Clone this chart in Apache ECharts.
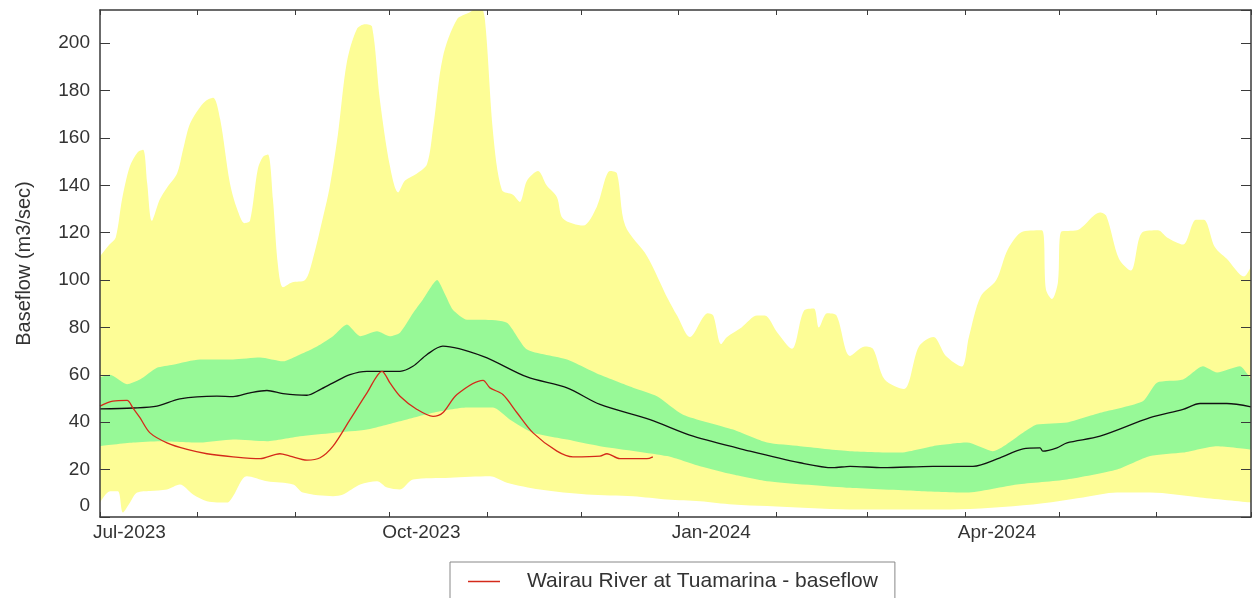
<!DOCTYPE html>
<html>
<head>
<meta charset="utf-8">
<script src="https://cdn.jsdelivr.net/npm/echarts@6/dist/echarts.min.js"></script>
<style>
  html, body { margin: 0; padding: 0; background: #fff; }
  #chart { width: 1253px; height: 598px; }
</style>
</head>
<body>
<div id="chart"></div>
<script>
// x = days counted from 1 Jul 2023, values in m3/sec
const maxFlow = [[0,110],[3,115],[5,118],[7,134],[9.5,148],[12,154],[13.7,155],[15,141],[16.5,125],[19,134],[21.3,139],[24.5,145],[26.4,155],[28.6,166],[31.8,173],[34,176],[36,177],[38.2,168],[41.3,141],[43.6,130],[46,124],[47.7,125],[50.2,147],[51.8,152],[53.4,153],[55,134],[56.6,106],[58.2,97],[61,99],[65.2,100],[67.7,109],[71,127],[73,139],[75.7,162],[78.5,192],[81.7,206],[84.3,208],[86.5,207],[89,176],[92.2,148],[94.8,137],[97,142],[100.8,145],[104,149],[106,165],[109,194],[113.5,210],[117.6,213],[120.8,216],[122.4,210],[125,162],[127.8,138],[131.3,136],[133.5,133],[135.8,142],[139.3,146],[142,140],[145.3,135],[147.2,126],[153.6,123],[158,131],[162.2,146],[164.4,145],[167,123],[174,110],[180.6,92],[183.5,85],[187.6,76],[193.3,86],[195,85],[197.5,73],[199.4,76],[204,80],[209,85],[211.4,85],[215.3,78],[220,71],[223.8,87],[227,88],[228.6,80],[231.2,86],[234.2,85],[238.5,68],[243.2,72],[245.8,71],[249.5,58],[255.6,54],[260.4,72],[265,76],[269,68],[274,63.5],[276.3,76],[280,93],[285,100],[288.7,113],[293.5,120.5],[299.5,121],[300.8,96],[302.7,92],[304.6,99],[305.7,120.5],[310.7,121],[318,128.5],[320,127],[324,109],[327.8,104],[331.3,120],[336.4,121],[339.3,118],[344.4,115],[348.5,125.5],[351,125.5],[354.5,114],[358.3,109],[363.8,101.5],[366,105.7]];
const upperQuartile = [[0,58.9],[3.2,60],[8.6,56],[12.7,58],[18.1,63],[23.2,64.3],[31.8,66.5],[42.3,66.5],[50.9,67.3],[58.2,65.7],[63.6,68.6],[69,72],[74.1,76.3],[78.5,81.2],[82.7,76.3],[88.1,78.4],[92.2,76.3],[95.4,77.8],[99.5,86],[102.7,91.8],[107.2,100],[109.7,94],[112.2,87.5],[116.7,83.3],[121.8,83.3],[129.4,82],[135.8,70.7],[148.5,66.5],[159,60],[169.5,54.6],[177.1,51],[185.4,43.2],[201.3,36.9],[212.1,31.4],[222.6,29.9],[238.5,27.8],[254.4,27.2],[264.9,29.9],[275.7,31.4],[283.9,27.8],[293.5,35.6],[297.9,39],[307.5,39.9],[318,44],[331.6,48.9],[336.1,56.7],[344.4,58],[350.7,63.6],[355.2,61],[362.5,63.6],[366,58]];
const lowerQuartile = [[0,29.9],[10.5,31.4],[19.1,32],[31.8,31.4],[42.3,32.7],[53.1,32],[63.6,34.1],[74.1,35.5],[84.9,36.9],[95.4,40.4],[105.9,44],[116.7,46.2],[125,46.2],[130.4,41.1],[137.7,35.6],[148.5,32.7],[159,29.9],[180.3,25.7],[190.8,21.4],[201.3,17.9],[212.1,15.1],[238.5,12.3],[259.8,11],[275.7,10.3],[291.6,13.7],[307.5,15.8],[323.4,20],[333.9,25.7],[344.4,27.2],[355.2,29.9],[366,28.5]];
const minFlow = [[0,6.1],[3.2,10.9],[5.7,10.9],[7.3,1.9],[9.5,6],[11.8,10.3],[15.9,11],[21.3,11.6],[25.4,13.7],[29.6,9.5],[34,6.7],[40.4,6.1],[42.3,8.8],[46.7,17.2],[53.1,15.1],[61.4,13.7],[64.5,10.3],[74.1,8.8],[77.3,9.5],[82.7,13.7],[88.1,15.1],[91.3,12.4],[95.4,11.6],[99.5,15.8],[111.3,16.6],[124,17.2],[129.4,14.5],[139.9,11.6],[154.8,9.5],[169.5,8.8],[180.3,7.4],[190.8,6.7],[201.3,5.3],[212.1,4.6],[238.5,3.2],[270.3,3.2],[296.7,5.3],[312.6,8.2],[323.4,10.3],[333.9,10.3],[349.8,8.2],[366,6.1]];
const medianFlow = [[0,45.6],[10.5,46],[18.1,46.8],[25.4,49.9],[37.2,51],[42.3,50.8],[47.7,52.4],[53.1,53.4],[58.2,52.1],[65.8,51.4],[70,53.8],[74.1,56.6],[79.5,60.1],[84.9,61.5],[95.4,61.5],[99.5,63.6],[104,68.6],[109,72.1],[121.8,67.8],[135.8,59.1],[148.5,54.5],[159,47.5],[174.9,41.1],[188.6,34.1],[206.7,27.8],[222.6,22.9],[233.1,20.8],[238.5,21.4],[249,20.8],[264.9,21.4],[277.6,21.4],[286.2,25],[293.5,28.8],[298.9,29.2],[299.8,27.8],[304.3,29.2],[307.5,31.3],[318,34.1],[333.9,41.9],[344.4,45.4],[349.8,47.9],[358.3,47.9],[366,46.5]];
const observedFlow = [[0,46.8],[4.1,48.9],[8.6,49.2],[10.5,46],[12.7,41.9],[15.9,35.5],[21.3,31.3],[27.7,28.5],[34,26.7],[42.3,25.4],[50.9,24.6],[57.2,26.7],[60.4,25.7],[65.8,24],[70,25],[74.1,29.9],[79.5,41.1],[84.9,52.4],[89.7,61.5],[92.2,56.6],[95.4,51],[100.8,45.4],[105.9,42.5],[109,44],[113.5,51.7],[121.8,57.7],[124,54.5],[128.1,51.7],[132.6,44],[137.7,35.5],[145.3,27.8],[150.4,25.4],[159,25.7],[161.2,26.7],[165.3,24.6],[173.9,24.6],[175.8,25.4]];

const monthTicks = ['2023-07-01','2023-08-01','2023-09-01','2023-10-01','2023-11-01','2023-12-01','2024-01-01','2024-02-01','2024-03-01','2024-04-01','2024-05-01','2024-06-01','2024-07-01'];
const labelTicks = ['2023-07-01','2023-10-01','2024-01-01','2024-04-01'];
const monthNames = ['Jan','Feb','Mar','Apr','May','Jun','Jul','Aug','Sep','Oct','Nov','Dec'];
const seriesName = 'Wairau River at Tuamarina - baseflow';

const DAY = 86400000;
const start = Date.UTC(2023, 6, 1);
const toDay = (s) => { const a = s.split('-'); return Math.round((Date.UTC(+a[0], +a[1] - 1, +a[2]) - start) / DAY); };
const tickDays = monthTicks.map(toDay);
const labelDays = labelTicks.map(toDay);
const dayLabel = (v) => { const d = new Date(start + v * DAY); return monthNames[d.getUTCMonth()] + '-' + d.getUTCFullYear(); };

const axisColor = '#3a3a3a';
const font = 'Liberation Sans, Arial, sans-serif';

const chart = echarts.init(document.getElementById('chart'));

const band = (name, data, color, smooth) => ({
  name: name,
  type: 'line',
  data: data,
  symbol: 'none',
  smooth: smooth,
  lineStyle: { width: 0 },
  areaStyle: { color: color, opacity: 1 },
  silent: true,
});

// shared frame settings: ticks point into the plot
const xFrame = (position, labels) => ({
  type: 'value',
  position: position,
  min: tickDays[0],
  max: tickDays[tickDays.length - 1],
  z: 10,
  axisLine: { show: true, onZero: false, lineStyle: { color: axisColor, width: 1.5 } },
  axisTick: { show: true, inside: true, length: 5, customValues: tickDays, lineStyle: { color: axisColor } },
  axisLabel: labels,
  splitLine: { show: false },
});
const yFrame = (position, labels) => ({
  type: 'value',
  position: position,
  min: 0,
  max: 214,
  interval: 20,
  z: 10,
  axisLine: { show: true, onZero: false, lineStyle: { color: axisColor, width: 1.5 } },
  axisTick: { show: true, inside: true, length: 10, lineStyle: { color: axisColor } },
  axisLabel: labels,
  splitLine: { show: false },
});

const bottomAxis = xFrame('bottom', {
  customValues: labelDays,
  formatter: dayLabel,
  fontFamily: font, fontSize: 19, color: '#333', align: 'left', padding: [0, 0, 0, -7], margin: 6,
});
const leftAxis = Object.assign(yFrame('left', {
  fontFamily: font, fontSize: 19, color: '#333', margin: 10, showMaxLabel: false,
  // the zero label sits a little above the frame corner
  formatter: (v) => (v === 0 ? '{zero|0}' : String(v)),
  rich: { zero: { fontFamily: font, fontSize: 19, color: '#333', padding: [0, 0, 22, 0] } },
}), {
  name: 'Baseflow (m3/sec)',
  nameLocation: 'middle',
  nameGap: 66,
  nameTextStyle: { fontFamily: font, fontSize: 20, color: '#333' },
});

chart.setOption({
  animation: false,
  backgroundColor: '#fff',
  grid: { left: 100, right: 2, top: 10, bottom: 81 },
  legend: {
    data: [{ name: seriesName, icon: 'rect' }],
    left: 450,
    top: 562,
    padding: [9, 17, 9, 18],
    itemWidth: 32,
    itemHeight: 1.5,
    borderColor: '#888',
    borderWidth: 1,
    textStyle: { fontFamily: font, fontSize: 21, color: '#333', padding: [0, 0, 0, 22] },
  },
  xAxis: [bottomAxis, xFrame('top', { show: false })],
  yAxis: [leftAxis, yFrame('right', { show: false })],
  series: [
    band('max', maxFlow, '#fdfd96', 0.3),
    band('upper quartile', upperQuartile, '#97f997', 0.2),
    band('lower quartile', lowerQuartile, '#fdfd96', 0.2),
    band('min', minFlow, '#ffffff', 0.3),
    {
      name: 'median',
      type: 'line',
      data: medianFlow,
      symbol: 'none',
      smooth: 0.3,
      lineStyle: { color: '#111', width: 1.3 },
      silent: true,
    },
    {
      name: seriesName,
      type: 'line',
      data: observedFlow,
      symbol: 'none',
      smooth: 0.3,
      color: '#d42a1a',
      lineStyle: { color: '#d42a1a', width: 1.3 },
    },
    // empty series so the top and right frame axes are laid out
    { name: 'frame', type: 'line', xAxisIndex: 1, yAxisIndex: 1, data: [], silent: true },
  ],
});
</script>
</body>
</html>
